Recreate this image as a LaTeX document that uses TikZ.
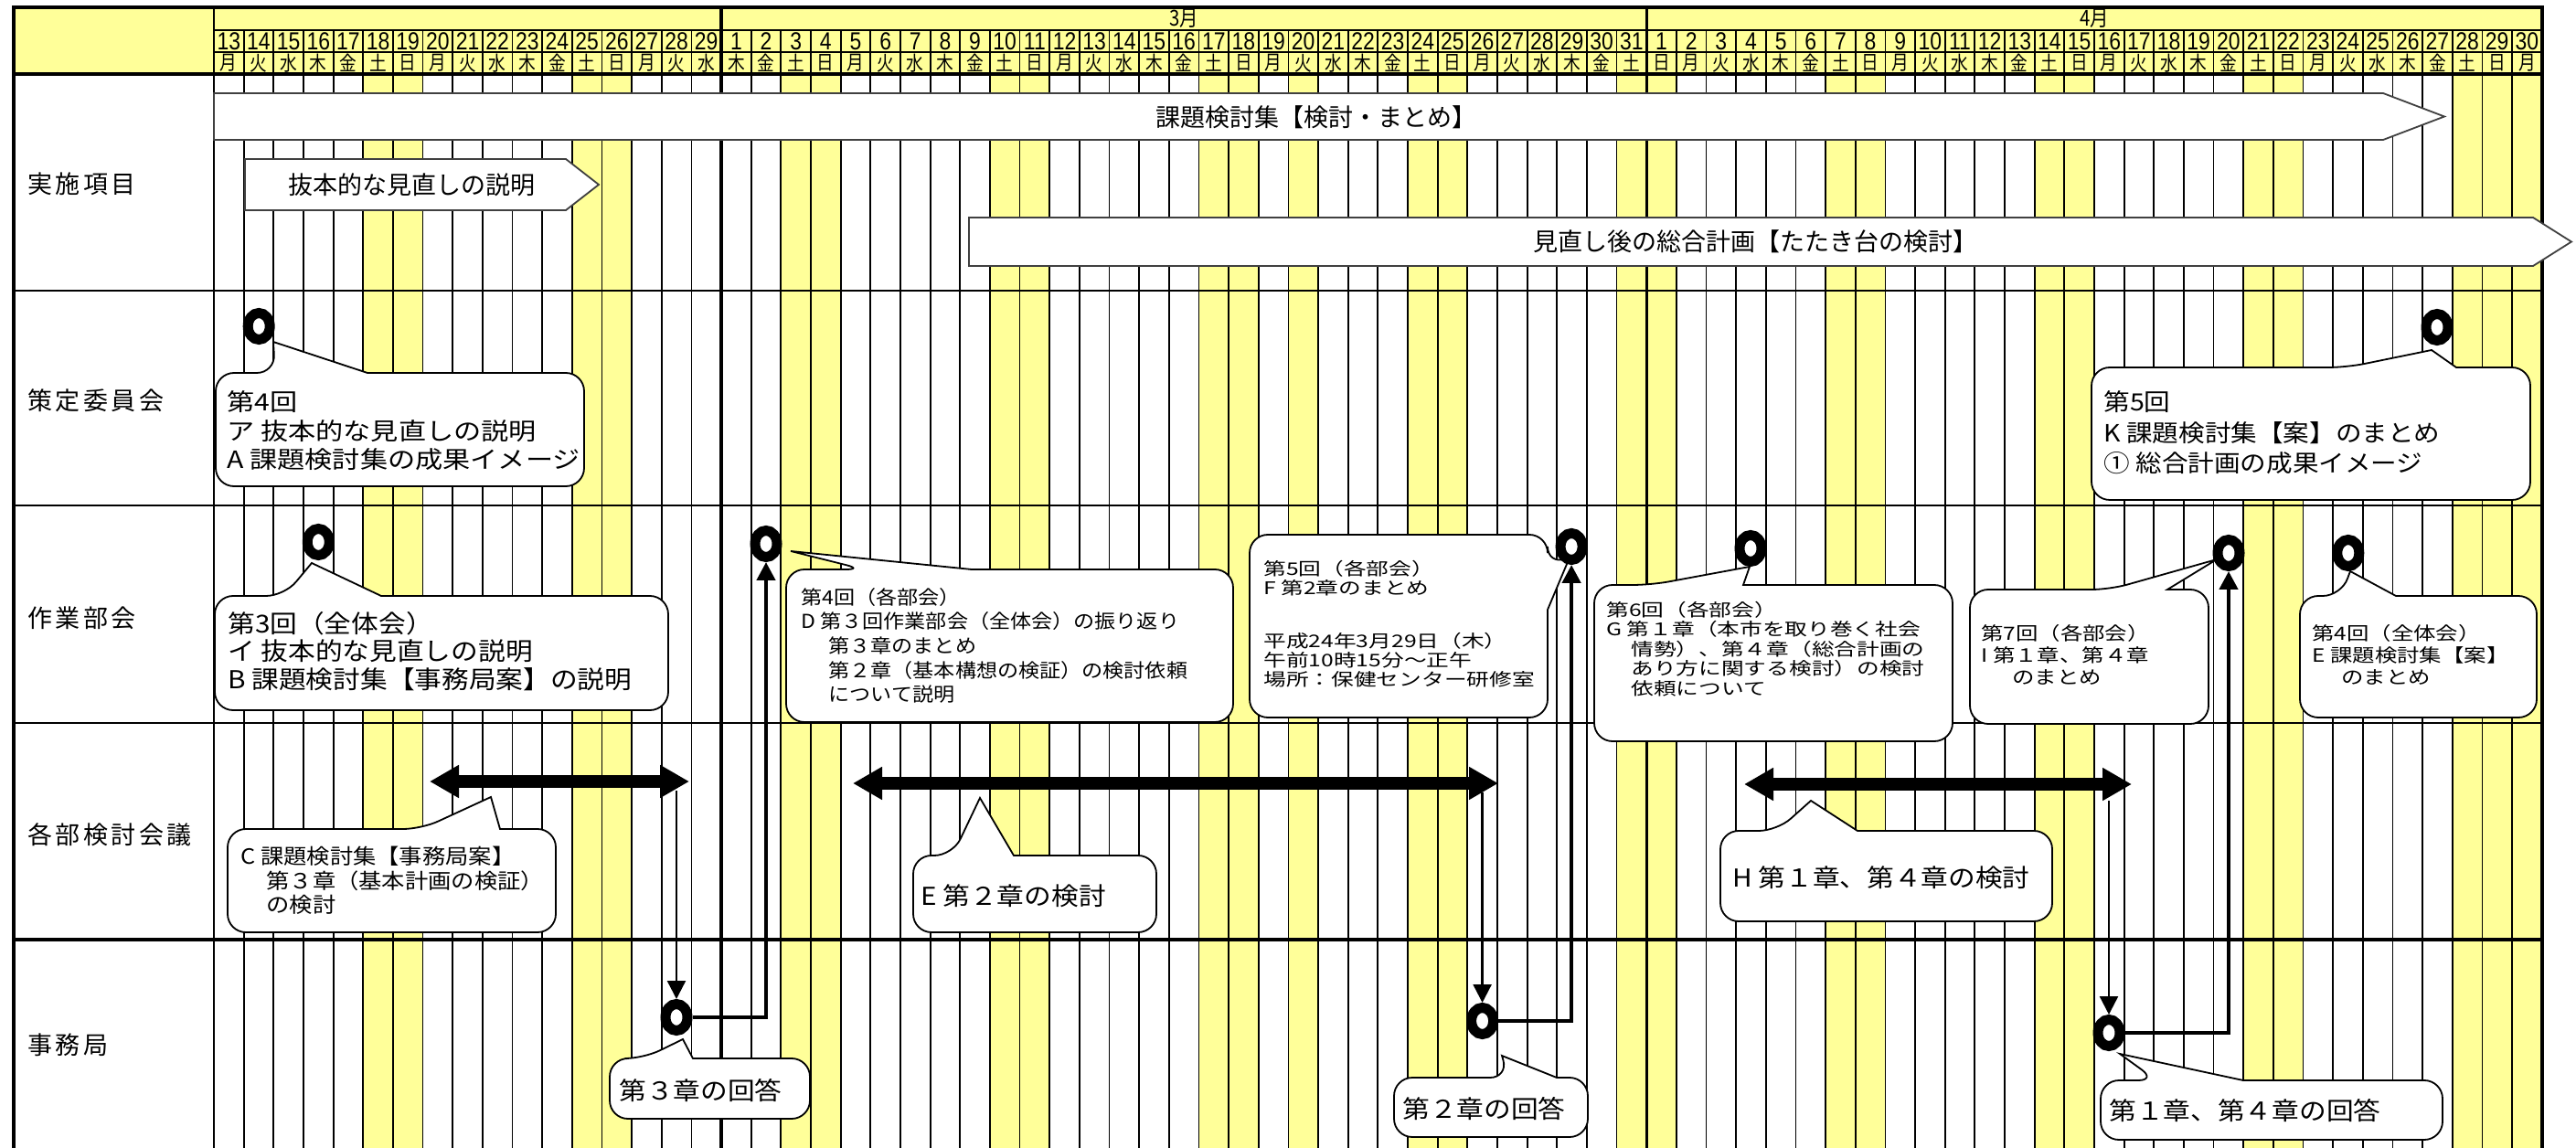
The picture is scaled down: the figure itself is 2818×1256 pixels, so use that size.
\documentclass[tikz,border=0pt]{standalone}
\usepackage{fontspec}
\setmainfont{Noto Sans CJK JP}
\newfontfamily\wideA[FakeStretch=1.1]{Noto Sans CJK JP}
\newfontfamily\wideB[FakeStretch=1.3]{Noto Sans CJK JP}
\newfontfamily\wideC[FakeStretch=1.22]{Noto Sans CJK JP}
\newfontfamily\wideK[FakeStretch=1.1]{Noto Sans CJK JP}
\newfontfamily\wideKK[FakeStretch=1.16]{Noto Sans CJK JP}
\newfontfamily\spacedJ[LetterSpace=13]{Noto Sans CJK JP}
\newfontfamily\narrowJ[FakeStretch=0.85]{Noto Sans CJK JP}
\newfontfamily\narrowL[FakeStretch=0.85]{Liberation Sans}
\usetikzlibrary{arrows.meta,shapes.geometric}
\definecolor{wkday}{HTML}{FFFF99}
\tikzset{
  gridl/.style={line width=0.9pt},
  rowl/.style={line width=1pt},
  thickl/.style={line width=2.2pt},
  monl/.style={line width=1.6pt},
  midl/.style={line width=1.3pt},
  callout/.style={draw=black, fill=white, line width=0.9pt},
  banner/.style={draw=black!75, fill=white, line width=0.9pt},
  ringmark/.style={ellipse, draw=black, fill=white, line width=5.5pt, minimum width=12pt, minimum height=14.5pt, inner sep=0pt},
  rowlab/.style={anchor=west, inner sep=0pt, font=\spacedJ\fontsize{13.5pt}{16pt}\selectfont},
  bantext/.style={anchor=center, inner sep=0pt, font=\fontsize{13.5pt}{16pt}\selectfont},
  ctext/.style={anchor=west, inner sep=0pt, align=left},
  ctextone/.style={anchor=west, inner sep=0pt, font=\wideK\fontsize{13.5pt}{16pt}\selectfont},
  hnum/.style={font=\narrowL\fontsize{13.5pt}{14pt}\selectfont, inner sep=0pt},
  hwd/.style={font=\narrowJ\fontsize{11pt}{12pt}\selectfont, inner sep=0pt},
  hmon/.style={font=\narrowJ\fontsize{12pt}{13pt}\selectfont, inner sep=0pt},
  conn/.style={line width=2.2pt, -{Triangle[length=10pt,width=10pt]}},
  downarr/.style={line width=1.2pt, -{Triangle[length=10pt,width=10pt]}},
  dbl/.style={line width=7pt, {Triangle[length=16pt,width=17pt]}-{Triangle[length=16pt,width=17pt]}},
}
\newcommand\calltop[8]{\draw[callout] (#7,#8) -- (#6,#2) [rounded corners=10pt] -- (#3,#2) -- (#3,#4) -- (#1,#4) -- (#1,#2) -- (#5,#2) [sharp corners] -- cycle;}
\begin{document}
\begin{tikzpicture}[x=0.5pt,y=-0.5pt]
\useasboundingbox (0,0) rectangle (2818,1256);
% fills
\fill[wkday] (15,8) rectangle (2781,81);
\foreach \i in {5,6,12,13,19,20,26,27,33,34,36,40,41,47,48,54,55,61,62,68,69,75,76,77}
  \fill[wkday] ({234+32.65*\i},81) rectangle ({234+32.65*(\i+1)},1256);
% grid
\foreach \i in {1,...,77} \draw[gridl] ({234+32.65*\i},33) -- ({234+32.65*\i},1256);
\foreach \y in {33,57} \draw[gridl] (234,\y) -- (2781,\y);
\foreach \y in {318,553,791} \draw[rowl] (15,\y) -- (2781,\y);
\draw[thickl] (15,1028) -- (2781,1028);
\draw[thickl] (15,81) -- (2781,81);
\foreach \i in {17,48} \draw[monl] ({234+32.65*\i},8) -- ({234+32.65*\i},1256);
\draw[midl] (234,8) -- (234,1256);
\draw[thickl] (15,1256) -- (15,8) -- (2781,8) -- (2781,1256);
% header
\node[hmon] (m3) at (1295,20.5) {3月};
\node[hmon] (m4) at (2291,20.5) {4月};
\foreach \i in {0,...,77}{
  \pgfmathtruncatemacro\dd{\i<17 ? \i+13 : (\i<48 ? \i-16 : \i-47)}
  \pgfmathtruncatemacro\ww{mod(\i,7)}
  \node[hnum] (dn\i) at ({234+32.65*(\i+0.5)},45) {\dd};
  \node[hwd] (dw\i) at ({234+32.65*(\i+0.5)},69) {\ifcase\ww 月\or 火\or 水\or 木\or 金\or 土\or 日\fi};
}
% row labels
\node[rowlab] (l1) at (30,201) {実施項目};
\node[rowlab] (l2) at (30,438) {策定委員会};
\node[rowlab] (l3) at (30,676) {作業部会};
\node[rowlab] (l4) at (30,913) {各部検討会議};
\node[rowlab] (l5) at (30,1143) {事務局};
% banners
\draw[banner] (234,102) -- (2607,102) -- (2674,127.5) -- (2607,153) -- (234,153) -- cycle;
\node[bantext] (b1) at (1440,128) {課題検討集【検討・まとめ】};
\draw[banner] (268,174) -- (619,174) -- (655,202) -- (619,230) -- (268,230) -- cycle;
\node[bantext] (b2) at (450,202) {抜本的な見直しの説明};
\draw[banner] (1060,238) -- (2771,238) -- (2813,264.5) -- (2771,291) -- (1060,291) -- cycle;
\node[bantext] (b3) at (1920,264.5) {見直し後の総合計画【たたき台の検討】};
% callouts
\calltop{236}{408}{639}{532}{301}{402}{299}{374}
\node[ctext, font=\wideKK\fontsize{13pt}{15.75pt}\selectfont] (k1) at (248,471.5) {第4回\\ア 抜本的な見直しの説明\\A 課題検討集の成果イメージ};
\calltop{2288}{402}{2768}{547}{2567}{2687}{2660}{383}
\node[ctext, font=\wideK\fontsize{13pt}{16.75pt}\selectfont] (k2) at (2301,473.5) {第5回\\K 課題検討集【案】のまとめ\\① 総合計画の成果イメージ};
\calltop{235}{652}{731}{777}{311}{417}{341}{616}
\node[ctext, font=\wideK\fontsize{13.5pt}{15.25pt}\selectfont] (s3) at (249,712.5) {第3回（全体会）\\イ 抜本的な見直しの説明\\B 課題検討集【事務局案】の説明};
\calltop{860}{623}{1349}{790}{945}{1063}{865}{603}
\node[ctext, font=\wideA\fontsize{10.5pt}{13.35pt}\selectfont] (s4) at (876,706.5) {第4回（各部会）\\D 第３回作業部会（全体会）の振り返り\\\hspace*{15pt}第３章のまとめ\\\hspace*{15pt}第２章（基本構想の検証）の検討依頼\\\hspace*{15pt}について説明};
\draw[callout] (1717,610) -- (1693,667) [rounded corners=10pt] -- (1693,785) -- (1367,785) -- (1367,585) -- (1693,585) -- (1693,618) [sharp corners] -- cycle;
\node[ctext, font=\wideB\fontsize{9.5pt}{10.5pt}\selectfont] (s5) at (1382,682.5) {第5回（各部会）\\F 第2章のまとめ\\[18.5pt]平成24年3月29日（木）\\午前10時15分～正午\\場所：保健センター研修室};
\calltop{1744}{640}{2136}{811}{1806}{1907}{1914}{620}
\node[ctext, font=\wideB\fontsize{9.5pt}{10.75pt}\selectfont] (s6) at (1757,710) {第6回（各部会）\\G 第１章（本市を取り巻く社会\\\hspace*{13.5pt}情勢）、第４章（総合計画の\\\hspace*{13.5pt}あり方に関する検討）の検討\\\hspace*{13.5pt}依頼について};
\calltop{2155}{645}{2416}{792}{2308}{2371}{2425}{612}
\node[ctext, font=\wideC\fontsize{10pt}{12pt}\selectfont] (s7) at (2167,716) {第7回（各部会）\\I 第１章、第４章\\\hspace*{17pt}のまとめ};
\calltop{2516}{652}{2775}{785}{2561}{2621}{2571}{625}
\node[ctext, font=\wideC\fontsize{10pt}{12pt}\selectfont] (s8) at (2529,716) {第4回（全体会）\\E 課題検討集【案】\\\hspace*{16pt}のまとめ};
\calltop{249}{907}{608}{1020}{461}{547}{537}{872}
\node[ctext, font=\wideA\fontsize{11.5pt}{13.25pt}\selectfont] (kc) at (263,963.5) {C 課題検討集【事務局案】\\\hspace*{14pt}第３章（基本計画の検証）\\\hspace*{14pt}の検討};
\calltop{999}{936}{1265}{1020}{1042}{1109}{1072}{873}
\node[ctextone] (ke) at (1007,980) {E 第２章の検討};
\calltop{1882}{909}{2245}{1008}{1944}{2032}{1981}{876}
\node[ctextone] (kh) at (1895,960) {H 第１章、第４章の検討};
\calltop{667}{1158}{886}{1224}{704}{758}{747}{1137}
\node[ctextone] (r3) at (677,1193) {第３章の回答};
\calltop{1525}{1179}{1737}{1244}{1650}{1703}{1643}{1155}
\node[ctextone] (r2) at (1534,1213) {第２章の回答};
\calltop{2298}{1182}{2672}{1247}{2359}{2454}{2319}{1153}
\node[ctextone] (r14) at (2307,1215) {第１章、第４章の回答};
% circles
\node[ringmark] (c1) at (283.2,357) {};
\node[ringmark] (c2) at (2666,358) {};
\node[ringmark] (c3) at (348.3,593) {};
\node[ringmark] (c4) at (838,595) {};
\node[ringmark] (c5) at (1719.1,598) {};
\node[ringmark] (c6) at (1915,600) {};
\node[ringmark] (c7) at (2438,605) {};
\node[ringmark] (c8) at (2568.8,605) {};
\node[ringmark] (d1) at (740,1113) {};
\node[ringmark] (d2) at (1621.6,1117) {};
\node[ringmark] (d3) at (2307,1130) {};
% connectors
\draw[conn] (d1.east) -| (c4.south);
\draw[conn] (d2.east) -| (c5.south);
\draw[conn] (d3.east) -| (c7.south);
\coordinate (a1l) at (470,855); \coordinate (a1r) at (754,855);
\coordinate (a2l) at (933,857); \coordinate (a2r) at (1639,857);
\coordinate (a3l) at (1908,858); \coordinate (a3r) at (2332,858);
\draw[dbl] (a1l) -- (a1r);
\draw[dbl] (a2l) -- (a2r);
\draw[dbl] (a3l) -- (a3r);
\coordinate (a1d) at (740,865);
\coordinate (a2d) at (1621.6,867);
\coordinate (a3d) at (2307,876);
\draw[downarr] (a1d) -- (d1.north);
\draw[downarr] (a2d) -- (d2.north);
\draw[downarr] (a3d) -- (d3.north);
\end{tikzpicture}
\end{document}
